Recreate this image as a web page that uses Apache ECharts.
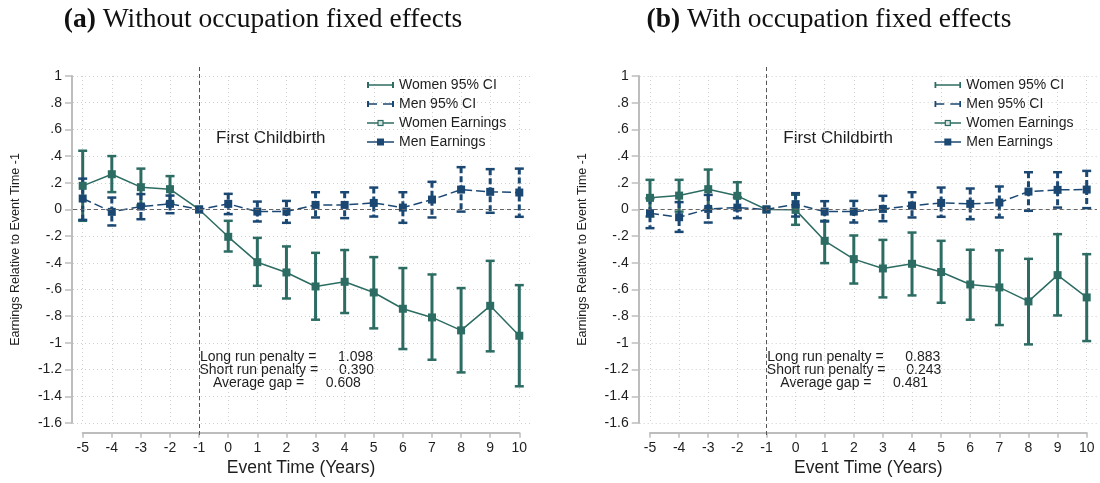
<!DOCTYPE html>
<html><head><meta charset="utf-8">
<script src="https://cdn.jsdelivr.net/npm/echarts@6/dist/echarts.min.js"></script>
<style>html,body{margin:0;padding:0;background:#fff}#c{width:1100px;height:483px}</style>
</head><body><div id="c"></div>
<script>
// ---------- data ----------
const eventTime = [-5,-4,-3,-2,-1,0,1,2,3,4,5,6,7,8,9,10];
const yTickLabels = ['-1.6','-1.4','-1.2','-1','-.8','-.6','-.4','-.2','0','.2','.4','.6','.8','1'];
const seriesNames = ['Women 95% CI','Men 95% CI','Women Earnings','Men Earnings'];
const panelTitles = [['(a)',' Without occupation fixed effects'],['(b)',' With occupation fixed effects']];
const statLabels = ['Long run penalty =','Short run penalty =','Average gap ='];
const statsA = ['1.098','0.390','0.608'];
const statsB = ['0.883','0.243','0.481'];
const eventLabel = 'First Childbirth';

// Panel (a): without occupation fixed effects
const womenA   = [0.177,0.264,0.167,0.152,0,-0.205,-0.395,-0.472,-0.577,-0.542,-0.622,-0.744,-0.809,-0.906,-0.722,-0.946];
const womenAHi = [0.44,0.40,0.306,0.25,0,-0.085,-0.213,-0.277,-0.325,-0.304,-0.357,-0.439,-0.487,-0.589,-0.385,-0.567];
const womenALo = [-0.085,0.13,0.03,0.05,0,-0.315,-0.572,-0.667,-0.826,-0.776,-0.891,-1.046,-1.126,-1.221,-1.063,-1.325];
const menA     = [0.082,-0.018,0.022,0.042,0,0.042,-0.016,-0.016,0.034,0.034,0.049,0.014,0.074,0.149,0.132,0.127];
const menAHi   = [0.231,0.089,0.115,0.104,0,0.117,0.059,0.064,0.129,0.129,0.164,0.129,0.207,0.317,0.302,0.306];
const menALo   = [-0.078,-0.12,-0.073,-0.028,0,-0.035,-0.09,-0.1,-0.06,-0.065,-0.053,-0.1,-0.06,-0.016,-0.025,-0.055];
// Panel (b): with occupation fixed effects
const womenB   = [0.087,0.104,0.152,0.102,0,-0.003,-0.235,-0.372,-0.442,-0.407,-0.469,-0.562,-0.584,-0.689,-0.492,-0.659];
const womenBHi = [0.222,0.222,0.299,0.204,0,0.11,-0.085,-0.195,-0.228,-0.173,-0.235,-0.302,-0.306,-0.37,-0.185,-0.335];
const womenBLo = [-0.053,-0.016,0.005,0.0,0,-0.115,-0.402,-0.555,-0.659,-0.644,-0.699,-0.826,-0.866,-1.011,-0.794,-0.986];
const menB     = [-0.028,-0.058,0.004,0.014,0,0.04,-0.016,-0.016,0.004,0.029,0.049,0.042,0.052,0.134,0.147,0.149];
const menBHi   = [0.084,0.055,0.109,0.09,0,0.122,0.062,0.064,0.102,0.129,0.164,0.157,0.172,0.279,0.279,0.289];
const menBLo   = [-0.14,-0.168,-0.098,-0.065,0,-0.053,-0.09,-0.098,-0.088,-0.06,-0.055,-0.073,-0.06,-0.01,0.014,0.01];

// ---------- style ----------
const F = 'Liberation Sans';
const C_W = '#2c6c62', C_M = '#1b4873';
const AX = '#bdbdbd', TXT = '#1e1e1e', GRID = '#cfcfcf';

function svgIcon(body){
  const s = "<svg xmlns='http://www.w3.org/2000/svg' width='27' height='14' viewBox='0 0 27 14'>" + body + "</svg>";
  return 'image://data:image/svg+xml;charset=utf-8,' + encodeURIComponent(s);
}
const icons = [
  svgIcon("<path d='M1,4V10M26,4V10' stroke='"+C_W+"' stroke-width='2' fill='none'/><path d='M1,7H26' stroke='"+C_W+"' stroke-width='1.5' fill='none'/>"),
  svgIcon("<path d='M1,4V10M26,4V10' stroke='"+C_M+"' stroke-width='2' fill='none'/><path d='M1,7H10M16,7H26' stroke='"+C_M+"' stroke-width='1.5' fill='none'/>"),
  svgIcon("<path d='M0,7H27' stroke='"+C_W+"' stroke-width='1.5' fill='none'/><rect x='11' y='4.5' width='5' height='5' fill='#d5e4e0' stroke='"+C_W+"' stroke-width='1.2'/>"),
  svgIcon("<path d='M0,7H27' stroke='"+C_M+"' stroke-width='1.5' fill='none'/><rect x='10' y='3.5' width='7' height='7' fill='"+C_M+"'/>")
];

function ciRender(color, dashed){
  return function(params, api){
    const x = api.value(0), lo = api.value(1), hi = api.value(2);
    if (lo === hi) return null;
    const a = api.coord([x, hi]), b = api.coord([x, lo]);
    const cap = 4.5;
    return {type:'group', children:[
      {type:'line', shape:{x1:a[0],y1:a[1],x2:b[0],y2:b[1]}, style:{stroke:color,lineWidth:3,lineDash:dashed?[6,3]:null}},
      {type:'line', shape:{x1:a[0]-cap,y1:a[1],x2:a[0]+cap,y2:a[1]}, style:{stroke:color,lineWidth:2.5}},
      {type:'line', shape:{x1:b[0]-cap,y1:b[1],x2:b[0]+cap,y2:b[1]}, style:{stroke:color,lineWidth:2.5}}
    ]};
  };
}

const panels = [
  {axisX:72,   x0:82.7, x1:519.3,  plotR:530,  dx:0,     cx:263, w:womenA, wHi:womenAHi, wLo:womenALo, m:menA, mHi:menAHi, mLo:menALo, stats:statsA},
  {axisX:638.7,x0:650,  x1:1086.7, plotR:1097, dx:567.3, cx:829, w:womenB, wHi:womenBHi, wLo:womenBLo, m:menB, mHi:menBHi, mLo:menBLo, stats:statsB}
];

const TOP = 76, H = 347;
const grid = [], xAxis = [], yAxis = [], series = [], legend = [], graphic = [];

panels.forEach((p, i) => {
  const gA = grid.length, gB = gA + 1, gC = gA + 2;
  grid.push({left:p.axisX+1, top:TOP, width:p.plotR-p.axisX-1, height:H});
  grid.push({left:p.x0, top:TOP, width:p.x1-p.x0, height:H});
  grid.push({left:p.x0, top:67, width:p.x1-p.x0, height:368});

  xAxis.push({gridIndex:gA, type:'value', min:0, max:1, show:false});
  xAxis.push({gridIndex:gB, type:'value', min:-5, max:10, interval:1, offset:9.7,
    axisLine:{show:true, onZero:false, lineStyle:{color:AX, width:2}},
    axisTick:{show:true, length:5, lineStyle:{color:AX, width:1.5}},
    axisLabel:{color:TXT, fontFamily:F, fontSize:14, margin:8},
    splitLine:{show:true, lineStyle:{color:GRID, type:[1,3], width:1}},
    name:'Event Time (Years)', nameLocation:'middle', nameGap:26,
    nameTextStyle:{color:TXT, fontFamily:F, fontSize:17.5}});
  xAxis.push({gridIndex:gC, type:'value', min:-5, max:10, show:false});

  yAxis.push({gridIndex:gA, type:'value', min:-1.6, max:1, interval:0.2, offset:1,
    axisLine:{show:true, onZero:false, lineStyle:{color:AX, width:2}},
    axisTick:{show:true, length:7, lineStyle:{color:AX, width:1.5}},
    axisLabel:{color:TXT, fontFamily:F, fontSize:14, margin:10,
      formatter:(v)=>yTickLabels[Math.round((v+1.6)/0.2)]},
    splitLine:{show:true, lineStyle:{color:GRID, type:[1,3], width:1}},
    name:'Earnings Relative to Event Time -1', nameLocation:'middle', nameGap:49.5, nameRotate:90,
    nameTextStyle:{color:TXT, fontFamily:F, fontSize:12.5}});
  yAxis.push({gridIndex:gB, type:'value', min:-1.6, max:1, show:false});
  yAxis.push({gridIndex:gC, type:'value', min:0, max:1, show:false});

  series.push({type:'line', xAxisIndex:gA, yAxisIndex:gA, data:[], silent:true,
    markLine:{symbol:'none', silent:true, animation:false, label:{show:false},
      lineStyle:{color:'#666', type:[4,3], width:1}, data:[{yAxis:0}]}});
  series.push({type:'line', xAxisIndex:gC, yAxisIndex:gC, data:[], silent:true,
    markLine:{symbol:'none', silent:true, animation:false, label:{show:false},
      lineStyle:{color:'#555', type:[4,3], width:1}, data:[{xAxis:-1}]}});

  const ci = (lo, hi) => eventTime.map((t,k)=>[t, lo[k], hi[k]]);
  const pts = (v) => eventTime.map((t,k)=>[t, v[k]]);
  series.push({name:seriesNames[0], type:'custom', xAxisIndex:gB, yAxisIndex:gB, renderItem:ciRender(C_W,false),
    encode:{x:0, y:[1,2]}, data:ci(p.wLo, p.wHi), itemStyle:{color:C_W}, animation:false});
  series.push({name:seriesNames[1], type:'custom', xAxisIndex:gB, yAxisIndex:gB, renderItem:ciRender(C_M,true),
    encode:{x:0, y:[1,2]}, data:ci(p.mLo, p.mHi), itemStyle:{color:C_M}, animation:false});
  series.push({name:seriesNames[2], type:'line', xAxisIndex:gB, yAxisIndex:gB, data:pts(p.w),
    symbol:'rect', symbolSize:8, itemStyle:{color:C_W}, lineStyle:{color:C_W, width:1.5}, animation:false});
  series.push({name:seriesNames[3], type:'line', xAxisIndex:gB, yAxisIndex:gB, data:pts(p.m),
    symbol:'rect', symbolSize:8, itemStyle:{color:C_M}, lineStyle:{color:C_M, width:1.5, type:[9,4]}, animation:false});

  legend.push({orient:'vertical', left:367+p.dx, top:78, padding:0, itemWidth:27, itemHeight:14,
    itemGap:5, itemTextGap:10, selectedMode:false,
    textStyle:{color:TXT, fontFamily:F, fontSize:14, lineHeight:14},
    data:seriesNames.map((n,k)=>({name:n, icon:icons[k]}))});

  graphic.push({type:'text', x:p.cx, y:19.5, silent:true, style:{
    text:'{b|'+panelTitles[i][0]+'}'+panelTitles[i][1], fill:'#111',
    fontFamily:'Liberation Serif', fontSize:27.5, align:'center', verticalAlign:'middle',
    rich:{b:{fontWeight:'bold', fontFamily:'Liberation Serif', fontSize:27.5, fill:'#111'}}}});
  graphic.push({type:'text', x:216+p.dx, y:138, silent:true, style:{text:eventLabel, fill:TXT,
    fontFamily:F, fontSize:17, align:'left', verticalAlign:'middle'}});
  const labX = [200, 199.5, 213], numX = [338, 339, 325.7], rowY = [357, 370, 383];
  statLabels.forEach((s,k)=>{
    graphic.push({type:'text', x:labX[k]+p.dx, y:rowY[k], silent:true, style:{text:s, fill:TXT,
      fontFamily:F, fontSize:14, align:'left', verticalAlign:'middle'}});
    graphic.push({type:'text', x:numX[k]+p.dx, y:rowY[k], silent:true, style:{text:p.stats[k], fill:TXT,
      fontFamily:F, fontSize:14, align:'left', verticalAlign:'middle'}});
  });
});

const chart = echarts.init(document.getElementById('c'), null, {renderer:'canvas'});
chart.setOption({backgroundColor:'#fff', animation:false, grid, xAxis, yAxis, series, legend, graphic});
</script></body></html>
